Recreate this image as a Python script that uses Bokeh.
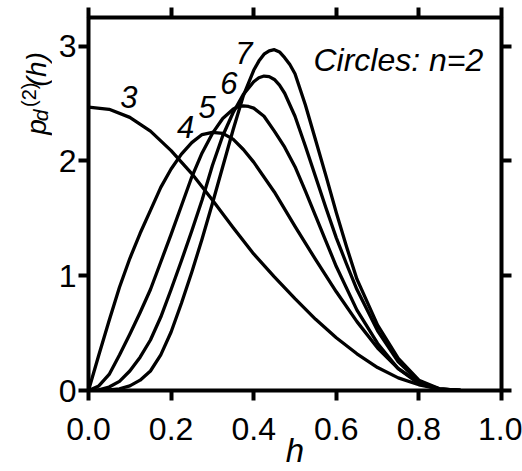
import math
from bokeh.plotting import figure
from bokeh.layouts import row
from bokeh.models import (Range1d, LinearAxis, FixedTicker, PrintfTickFormatter, Label)
from bokeh.embed import file_html
from bokeh.resources import INLINE

# ---- data ----
h3 = [0, 0.05, 0.1, 0.15, 0.2, 0.25, 0.3, 0.35, 0.4, 0.45, 0.5, 0.55, 0.6, 0.65, 0.7, 0.75, 0.8, 0.85, 0.9]
v3 = [2.47, 2.45, 2.38, 2.26, 2.09, 1.89, 1.66, 1.42, 1.19, 0.99, 0.80, 0.62, 0.46, 0.32, 0.20, 0.11, 0.05, 0.015, 0.0]

h4 = [0, 0.025, 0.05, 0.075, 0.1, 0.125, 0.15, 0.175, 0.2, 0.225, 0.25, 0.275, 0.3, 0.325, 0.35, 0.375, 0.4,
      0.45, 0.5, 0.55, 0.6, 0.65, 0.7, 0.75, 0.8, 0.85, 0.9]
v4 = [0, 0.31, 0.61, 0.90, 1.15, 1.37, 1.57, 1.77, 1.93, 2.06, 2.16, 2.23, 2.25, 2.24, 2.19, 2.10, 1.99,
      1.73, 1.43, 1.14, 0.86, 0.60, 0.37, 0.19, 0.07, 0.015, 0]

h5 = [0, 0.025, 0.05, 0.075, 0.1, 0.125, 0.15, 0.175, 0.2, 0.225, 0.25, 0.275, 0.3, 0.325, 0.35, 0.3625, 0.375,
      0.3875, 0.4, 0.425, 0.45, 0.475, 0.5, 0.525, 0.55, 0.575, 0.6, 0.65, 0.7, 0.75, 0.8, 0.85, 0.9]
v5 = [0, 0.04, 0.14, 0.31, 0.49, 0.68, 0.88, 1.12, 1.36, 1.61, 1.86, 2.07, 2.24, 2.37, 2.45, 2.475, 2.48,
      2.475, 2.46, 2.39, 2.26, 2.12, 1.95, 1.74, 1.52, 1.30, 1.08, 0.70, 0.41, 0.19, 0.06, 0.01, 0]

h6 = [0, 0.025, 0.05, 0.075, 0.1, 0.125, 0.15, 0.175, 0.2, 0.225, 0.25, 0.275, 0.3, 0.325, 0.35, 0.375, 0.4,
      0.4125, 0.425, 0.4375, 0.45, 0.4625, 0.475, 0.5, 0.525, 0.55, 0.575, 0.6, 0.625, 0.65, 0.7, 0.75, 0.8,
      0.85, 0.9]
v6 = [0, 0.005, 0.03, 0.08, 0.17, 0.29, 0.44, 0.64, 0.88, 1.13, 1.39, 1.66, 1.96, 2.22, 2.42, 2.58, 2.69,
      2.725, 2.74, 2.735, 2.71, 2.66, 2.59, 2.39, 2.13, 1.86, 1.59, 1.33, 1.10, 0.88, 0.52, 0.25, 0.08,
      0.01, 0]

h7 = [0, 0.05, 0.075, 0.1, 0.125, 0.15, 0.175, 0.2, 0.225, 0.25, 0.275, 0.3, 0.325, 0.35, 0.375, 0.4, 0.4125,
      0.425, 0.4375, 0.45, 0.4625, 0.475, 0.4875, 0.5, 0.525, 0.55, 0.575, 0.6, 0.625, 0.65, 0.7, 0.75, 0.8,
      0.85, 0.9]
v7 = [0, 0.005, 0.015, 0.04, 0.09, 0.17, 0.31, 0.51, 0.76, 1.03, 1.32, 1.63, 1.95, 2.27, 2.57, 2.79, 2.87,
      2.93, 2.96, 2.97, 2.95, 2.90, 2.84, 2.76, 2.49, 2.18, 1.87, 1.55, 1.25, 0.97, 0.57, 0.28, 0.09,
      0.015, 0]

curve_names = ["3", "4", "5", "6", "7"]
label_h = [0.098, 0.235, 0.287, 0.340, 0.376]
label_v = [2.56, 2.30, 2.47, 2.68, 2.94]

x_ticks = [0.0, 0.2, 0.4, 0.6, 0.8, 1.0]
y_ticks = [0, 1, 2, 3]
title_text = "Circles: n=2"
x_label = "h"
# y label pieces: p _d ^(2) (h)
y_label_parts = ["p", "d", "(2)", "(h)"]

FONT = "Liberation Sans"
W, H = 522, 471
LW = 52                  # width of the strip that carries the y label
BL, BT = 88, 17          # frame left / top in page pixels
FW, FH = 413, 374        # frame size

# ---------------- main plot ----------------
PW = W - LW
p = figure(width=PW, height=H, output_backend="svg", toolbar_location=None,
           x_range=Range1d(0, 1.0), y_range=Range1d(0, 3.25),
           min_border_left=BL - LW, min_border_right=PW - (BL - LW) - FW, min_border_top=BT,
           min_border_bottom=H - BT - FH,
           x_axis_location=None, y_axis_location=None)
p.grid.visible = False
p.background_fill_color = "white"
p.border_fill_color = "white"
p.outline_line_color = "black"
p.outline_line_width = 4

def style_axis(ax, show_labels, ticks):
    ax.axis_line_color = None
    ax.major_tick_out = 10
    ax.major_tick_in = 0
    ax.major_tick_line_width = 4
    ax.major_tick_line_color = "black"
    ax.minor_tick_line_color = None
    ax.major_label_text_font = FONT
    ax.major_label_text_color = "black"
    ax.major_label_text_font_size = "32px"
    if not show_labels:
        ax.major_label_overrides = {t: "" for t in ticks}
        ax.major_label_standoff = 0

xb = LinearAxis(ticker=FixedTicker(ticks=x_ticks), formatter=PrintfTickFormatter(format="%.1f"))
style_axis(xb, True, x_ticks)
xb.major_label_standoff = 17
xb.axis_label = x_label
xb.axis_label_text_font = FONT
xb.axis_label_text_font_size = "33px"
xb.axis_label_text_font_style = "italic"
xb.axis_label_text_color = "black"
xb.axis_label_standoff = -11
p.add_layout(xb, "below")
xt = LinearAxis(ticker=FixedTicker(ticks=x_ticks))
style_axis(xt, False, x_ticks)
p.add_layout(xt, "above")
yl = LinearAxis(ticker=FixedTicker(ticks=y_ticks), formatter=PrintfTickFormatter(format="%d"))
style_axis(yl, True, y_ticks)
yl.major_label_standoff = 2
p.add_layout(yl, "left")
yr = LinearAxis(ticker=FixedTicker(ticks=y_ticks))
style_axis(yr, False, y_ticks)
p.add_layout(yr, "right")

for hs, vs in [(h3, v3), (h4, v4), (h5, v5), (h6, v6), (h7, v7)]:
    p.line(hs, vs, line_color="black", line_width=3.3, line_join="round", line_cap="round")

for name, lx, ly in zip(curve_names, label_h, label_v):
    p.add_layout(Label(x=lx, y=ly, text=name, text_font=FONT, text_font_size="31px",
                       text_font_style="italic", text_align="center", text_baseline="middle",
                       text_color="black"))

p.add_layout(Label(x=0.956, y=2.88, text=title_text, text_font=FONT, text_font_size="32px",
                   text_font_style="italic", text_align="right", text_baseline="alphabetic",
                   text_color="black"))

# ---------------- y label strip ----------------
lf = figure(width=LW, height=H, output_backend="svg", toolbar_location=None,
            x_range=Range1d(0, LW), y_range=Range1d(0, H),
            min_border=0, min_border_left=0, min_border_right=0, min_border_top=0,
            min_border_bottom=0, x_axis_location=None, y_axis_location=None)
lf.grid.visible = False
lf.outline_line_color = None
lf.background_fill_color = "white"
lf.border_fill_color = "white"

rot = math.pi / 2
# (page x of baseline, page y where the text starts, size, style)
placement = [
    (36, 148, "28px", "italic"),
    (40, 131, "21px", "italic"),
    (28, 113, "20px", "normal"),
    (36, 87, "28px", "italic"),
]
for txt, (cx, cy, fs, st) in zip(y_label_parts, placement):
    lf.add_layout(Label(x=cx, y=H - cy, text=txt, angle=rot,
                        text_font=FONT, text_font_size=fs, text_font_style=st,
                        text_align="left", text_baseline="alphabetic", text_color="black"))

layout = row(lf, p, spacing=0)
open("out.html", "w").write(file_html(layout, INLINE))
